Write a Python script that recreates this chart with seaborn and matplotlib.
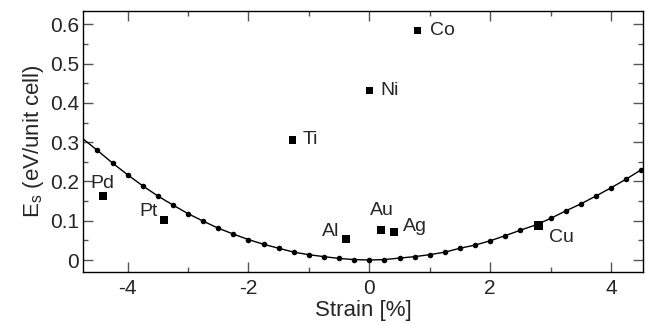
import matplotlib
matplotlib.use("Agg")
import matplotlib.pyplot as plt
import seaborn as sns
import pandas as pd
from matplotlib.ticker import MultipleLocator

# ── data ──────────────────────────────────────────────────────
strain = [-4.5, -4.25, -4.0, -3.75, -3.5, -3.25, -3.0, -2.75, -2.5, -2.25,
          -2.0, -1.75, -1.5, -1.25, -1.0, -0.75, -0.5, -0.25, 0.0, 0.25,
          0.5, 0.75, 1.0, 1.25, 1.5, 1.75, 2.0, 2.25, 2.5, 2.75,
          3.0, 3.25, 3.5, 3.75, 4.0, 4.25, 4.5]
energy = [0.279, 0.247, 0.217, 0.189, 0.163, 0.140, 0.118, 0.099, 0.081, 0.066,
          0.052, 0.040, 0.030, 0.020, 0.0135, 0.0085, 0.004, 0.001, 0.0, 0.001,
          0.005, 0.0085, 0.0136, 0.020, 0.030, 0.038, 0.049, 0.062, 0.076, 0.089,
          0.106, 0.125, 0.143, 0.163, 0.184, 0.206, 0.230]
# curve continues to the left frame edge
line_x = [-4.75] + strain
line_y = [0.310] + energy

metals   = ["Pd", "Pt", "Ti", "Al", "Ni", "Au", "Ag", "Co", "Cu"]
m_strain = [-4.41, -3.40, -1.27, -0.39, 0.0, 0.19, 0.41, 0.80, 2.80]
m_energy = [0.163, 0.102, 0.306, 0.054, 0.432, 0.077, 0.072, 0.585, 0.088]

sns.set_style("ticks")
plt.rcParams["font.family"] = ["Liberation Sans", "DejaVu Sans"]
plt.rcParams["mathtext.fontset"] = "custom"
plt.rcParams["mathtext.rm"] = "Liberation Sans"
plt.rcParams["mathtext.it"] = "Liberation Sans"

fig = plt.figure(figsize=(6.52, 3.24), dpi=100)
ax = fig.add_axes([0.1278, 0.1596, 0.858, 0.8074])

sns.lineplot(x=line_x, y=line_y, ax=ax, color="black", linewidth=1.0,
             sort=False, estimator=None)
sns.scatterplot(x=strain, y=energy, ax=ax, color="black", s=16,
                marker="o", linewidth=0, zorder=3)

df = pd.DataFrame({"metal": metals, "strain": m_strain, "E": m_energy})
sizes = [44 if m == "Cu" else 30 for m in metals]
ax.scatter(df["strain"], df["E"], s=sizes, marker="s", color="black",
           linewidth=0, zorder=4)

# label placement: (dx, dy, ha) in data units relative to the square
lab = {"Pd": (-0.21, 0.032, "left"), "Pt": (-0.10, 0.021, "right"),
       "Ti": (0.16, 0.0, "left"), "Al": (-0.10, 0.018, "right"),
       "Ni": (0.18, 0.0, "left"), "Au": (0.01, 0.050, "center"),
       "Ag": (0.14, 0.013, "left"), "Co": (0.21, 0.0, "left"),
       "Cu": (0.18, -0.030, "left")}
for _, r in df.iterrows():
    dx, dy, ha = lab[r["metal"]]
    ax.text(r["strain"] + dx, r["E"] + dy, r["metal"], ha=ha, va="center",
            fontsize=14)

ax.set_xlim(-4.733, 4.524)
ax.set_ylim(-0.0313, 0.635)
ax.xaxis.set_minor_locator(MultipleLocator(1))
ax.yaxis.set_minor_locator(MultipleLocator(0.05))
ax.set_yticks([0, 0.1, 0.2, 0.3, 0.4, 0.5, 0.6])
ax.set_yticklabels(["0", "0.1", "0.2", "0.3", "0.4", "0.5", "0.6"])
ax.set_xticks([-4, -2, 0, 2, 4])
ax.set_xticklabels(["-4", "-2", "0", "2", "4"])

ax.tick_params(which="both", direction="in", top=True, right=True,
               color="#555555", width=1.0, labelsize=15)
ax.tick_params(which="major", length=7.2)
ax.tick_params(which="minor", length=3.6)
ax.tick_params(axis="x", which="both", pad=5)
ax.tick_params(axis="y", which="both", pad=3)
for s in ax.spines.values():
    s.set_color("black")
    s.set_linewidth(1.0)

ax.set_xlabel("Strain [%]", fontsize=16, labelpad=1)
ax.set_ylabel(r"E$_{\rm s}$ (eV/unit cell)", fontsize=16, labelpad=3)

plt.savefig("out.png", dpi=100)
plt.close()
